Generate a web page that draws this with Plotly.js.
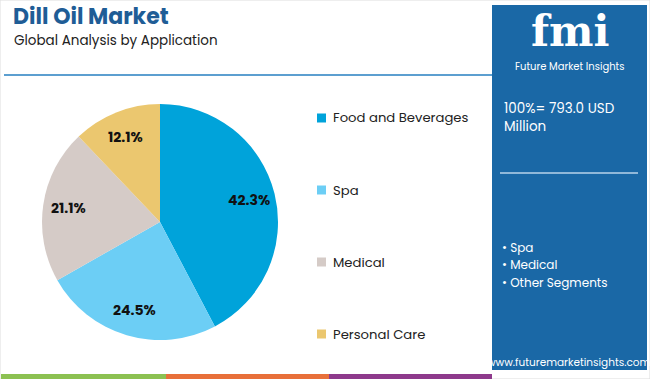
<!DOCTYPE html>
<html><head><meta charset="utf-8">
<script src="https://cdn.plot.ly/plotly-3.0.1.min.js"></script>
<style>html,body{margin:0;padding:0;background:#fff}#chart{width:650px;height:379px}</style>
</head><body><div id="chart"></div>
<script>
const categories = ["Food and Beverages", "Spa", "Medical", "Personal Care"];
const shares = [42.3, 24.5, 21.1, 12.1];
const colors = ["#00a3da", "#6ccef5", "#d5cbc7", "#ebc76f"];
const panelBullets = ["Spa", "Medical", "Other Segments"];
const totalText = "100%= 793.0 USD<br>Million";

const FONT = "Poppins, 'Open Sans', Lato, sans-serif";
const W = 650, H = 379;
const px = x => x / W, py = y => 1 - y / H;

// pie geometry (pixels)
const CX = 160, CY = 222, R = 118;

const pie = {
  type: "pie",
  labels: categories,
  values: shares,
  marker: {colors: colors, line: {width: 0}},
  sort: false,
  direction: "clockwise",
  rotation: 0,
  textinfo: "none",
  hoverinfo: "label+percent",
  showlegend: false,
  domain: {x: [px(CX - R), px(CX + R)], y: [py(CY + R), py(CY - R)]}
};

const shapes = [
  {type: "rect", xref: "paper", yref: "paper", x0: 0, x1: 1, y0: 0, y1: 1, line: {color: "#dddddd", width: 1}, fillcolor: "rgba(0,0,0,0)"},
  {type: "line", xref: "paper", yref: "paper", x0: px(4), x1: px(492), y0: py(75), y1: py(75), line: {color: "#5c9fd0", width: 2}},
  {type: "rect", xref: "paper", yref: "paper", x0: px(492), x1: px(647), y0: py(370), y1: py(5), fillcolor: "#1a68a6", line: {width: 0}},
  {type: "line", xref: "paper", yref: "paper", x0: px(500), x1: px(638), y0: py(173), y1: py(173), line: {color: "#b9d3ea", width: 1.5}},
  {type: "rect", xref: "paper", yref: "paper", x0: px(1), x1: px(166), y0: py(379), y1: py(374), fillcolor: "#8cc152", line: {width: 0}},
  {type: "rect", xref: "paper", yref: "paper", x0: px(166), x1: px(329), y0: py(379), y1: py(374), fillcolor: "#e8703a", line: {width: 0}},
  {type: "rect", xref: "paper", yref: "paper", x0: px(329), x1: px(492), y0: py(379), y1: py(374), fillcolor: "#8e3a8c", line: {width: 0}}
];

const annotations = [
  {text: "<b>Dill Oil Market</b>", x: px(11), y: py(17), xanchor: "left", yanchor: "middle", font: {family: FONT, size: 22, color: "#1f5d96"}},
  {text: "Global Analysis by Application", x: px(12), y: py(41), xanchor: "left", yanchor: "middle", font: {family: FONT, size: 13.5, color: "#222"}},
  {text: "<b>fmi</b>", x: px(570), y: py(31), xanchor: "center", yanchor: "middle", font: {family: "'DejaVu Serif', serif", size: 42, color: "#ffffff"}},
  {text: "Future Market Insights", x: px(569), y: py(66.5), xanchor: "center", yanchor: "middle", font: {family: FONT, size: 10, color: "#ffffff"}},
  {text: totalText, x: px(502), y: py(118), xanchor: "left", yanchor: "middle", align: "left", font: {family: FONT, size: 13.5, color: "#ffffff"}},
  {text: "www.futuremarketinsights.com", x: px(569), y: py(362), xanchor: "center", yanchor: "middle", font: {family: FONT, size: 10.5, color: "#ffffff"}}
];

// stripes over logo
for (let i = 0; i < 7; i++) {
  const yy = 20 + i * 5;
  shapes.push({type: "line", xref: "paper", yref: "paper", x0: px(515), x1: px(625), y0: py(yy), y1: py(yy), line: {color: "#1a68a6", width: 1}});
}

panelBullets.forEach((b, i) => {
  annotations.push({text: "• " + b, x: px(500), y: py(247 + i * 17.5), xanchor: "left", yanchor: "middle", font: {family: FONT, size: 12, color: "#ffffff"}});
});

// legend
categories.forEach((c, i) => {
  const y = 118 + i * 72;
  shapes.push({type: "rect", xref: "paper", yref: "paper", x0: px(317), x1: px(326), y0: py(y + 4.5), y1: py(y - 4.5), fillcolor: colors[i], line: {width: 0}});
  annotations.push({text: c, x: px(331), y: py(y), xanchor: "left", yanchor: "middle", font: {family: FONT, size: 13.2, color: "#222"}});
});

// slice labels placed at ~0.78 of the radius, at each slice's mid-angle
const total = shares.reduce((a, b) => a + b, 0);
let cum = 0;
shares.forEach(v => {
  const mid = (cum + v / 2) / total * 2 * Math.PI; // clockwise from 12 o'clock
  cum += v;
  const r = 0.78 * R;
  const x = CX + r * Math.sin(mid), y = CY - r * Math.cos(mid);
  annotations.push({text: "<b>" + v.toFixed(1) + "%</b>", x: px(x), y: py(y), xanchor: "center", yanchor: "middle", font: {family: FONT, size: 14, color: "#111"}});
});

annotations.forEach(a => { a.xref = "paper"; a.yref = "paper"; a.showarrow = false; });

Plotly.newPlot("chart", [pie], {
  width: W, height: H,
  margin: {l: 0, r: 0, t: 0, b: 0},
  paper_bgcolor: "#ffffff",
  showlegend: false,
  shapes: shapes,
  annotations: annotations
}, {displayModeBar: false, staticPlot: true});
</script></body></html>
